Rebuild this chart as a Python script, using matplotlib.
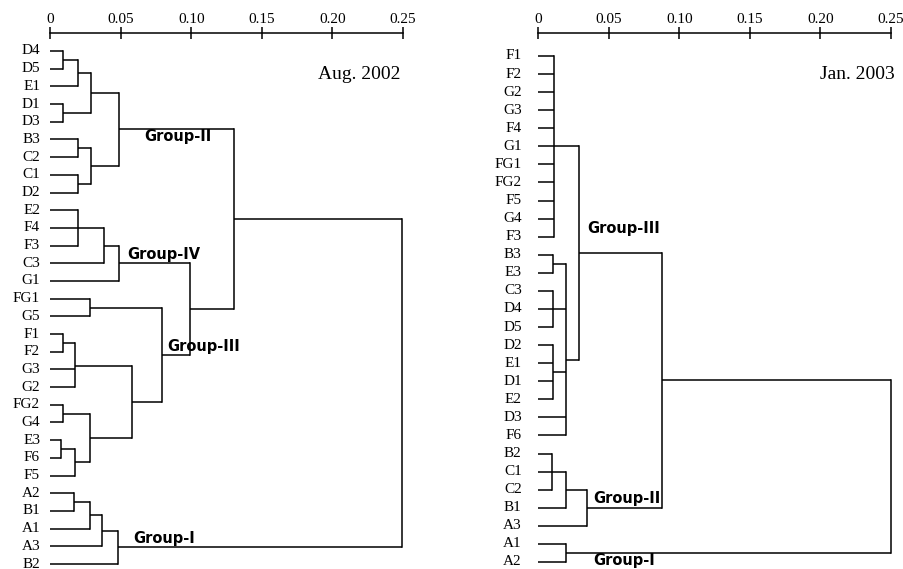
import matplotlib
matplotlib.use("Agg")
import matplotlib.pyplot as plt
import numpy as np

# Leaf order (top to bottom) and merges: (node, children, distance)
aug_leaves = ["D4", "D5", "E1", "D1", "D3", "B3", "C2", "C1", "D2", "E2",
              "F4", "F3", "C3", "G1", "FG1", "G5", "F1", "F2", "G3", "G2",
              "FG2", "G4", "E3", "F6", "F5", "A2", "B1", "A1", "A3", "B2"]
aug_merges = [
    ("a1", ["D4", "D5"], 0.009),
    ("a2", ["a1", "E1"], 0.0195),
    ("a3", ["D1", "D3"], 0.009),
    ("a4", ["a2", "a3"], 0.029),
    ("a5", ["B3", "C2"], 0.0195),
    ("a6", ["C1", "D2"], 0.0195),
    ("a7", ["a5", "a6"], 0.029),
    ("grpII", ["a4", "a7"], 0.049),
    ("a9", ["E2", "F4", "F3"], 0.0195),
    ("a10", ["a9", "C3"], 0.038),
    ("grpIV", ["a10", "G1"], 0.049),
    ("a11", ["FG1", "G5"], 0.028),
    ("a12", ["F1", "F2"], 0.009),
    ("a14", ["a12", "G3", "G2"], 0.018),
    ("a15", ["FG2", "G4"], 0.009),
    ("a16", ["E3", "F6"], 0.008),
    ("a17", ["a16", "F5"], 0.018),
    ("a18", ["a15", "a17"], 0.028),
    ("a19", ["a14", "a18"], 0.058),
    ("grpIII", ["a11", "a19"], 0.079),
    ("a20", ["grpIV", "grpIII"], 0.099),
    ("a21", ["grpII", "a20"], 0.130),
    ("a22", ["A2", "B1"], 0.017),
    ("a23", ["a22", "A1"], 0.028),
    ("a24", ["a23", "A3"], 0.037),
    ("grpI", ["a24", "B2"], 0.048),
    ("root", ["a21", "grpI"], 0.249),
]

jan_leaves = ["F1", "F2", "G2", "G3", "F4", "G1", "FG1", "FG2", "F5", "G4",
              "F3", "B3", "E3", "C3", "D4", "D5", "D2", "E1", "D1", "E2",
              "D3", "F6", "B2", "C1", "C2", "B1", "A3", "A1", "A2"]
jan_merges = [
    ("j1", ["F1", "F2", "G2", "G3", "F4", "G1", "FG1", "FG2", "F5", "G4", "F3"], 0.0116),
    ("j2", ["B3", "E3"], 0.0106),
    ("j3", ["C3", "D4", "D5"], 0.0106),
    ("j4", ["D2", "E1", "D1", "E2"], 0.0105),
    ("j5", ["j2", "j3", "j4", "D3", "F6"], 0.020),
    ("grpIII", ["j1", "j5"], 0.029),
    ("j6", ["B2", "C1", "C2"], 0.0097),
    ("j7", ["j6", "B1"], 0.020),
    ("grpII", ["j7", "A3"], 0.035),
    ("j8", ["grpIII", "grpII"], 0.0877),
    ("grpI", ["A1", "A2"], 0.020),
    ("root", ["j8", "grpI"], 0.250),
]

tick_values = [0, 0.05, 0.10, 0.15, 0.20, 0.25]
tick_labels = ["0", "0.05", "0.10", "0.15", "0.20", "0.25"]

SERIF = "Liberation Serif"
LW = 1.1


def draw_tree(ax, leaves, merges):
    pos = {name: (i, 0.0) for i, name in enumerate(leaves)}
    for node, children, h in merges:
        ys = []
        for c in children:
            y, x = pos[c]
            ax.plot([x, h], [y, y], color="black", lw=LW, clip_on=False,
                    solid_capstyle="butt")
            ys.append(y)
        ax.plot([h, h], [min(ys), max(ys)], color="black", lw=LW,
                clip_on=False, solid_capstyle="projecting")
        pos[node] = (np.mean(ys), h)


def setup_axis(ax, ylim, label_gap, leaves):
    ax.set_xlim(0, 0.25)
    ax.set_ylim(*ylim)
    for side in ["left", "right", "bottom"]:
        ax.spines[side].set_visible(False)
    ax.spines["top"].set_linewidth(LW)
    ax.xaxis.tick_top()
    ax.set_xticks(tick_values)
    ax.set_xticklabels(tick_labels, fontfamily=SERIF, fontsize=11)
    ax.tick_params(axis="x", direction="inout", length=9, width=LW, pad=0.5)
    ax.set_yticks([])
    ax.patch.set_alpha(0)
    for i, name in enumerate(leaves):
        ax.text(label_gap, i, name, ha="right", va="center",
                fontfamily=SERIF, fontsize=11)


def group_label(ax, x, y, text):
    ax.text(x, y, text, ha="left", va="center", fontfamily="DejaVu Sans",
            fontweight="bold", fontsize=10.5)


fig = plt.figure(figsize=(9.04, 5.69), dpi=100)
W, H = 904.0, 569.0
top = 33.0

# left panel: Aug. 2002
ax1 = fig.add_axes([50 / W, 0, 353 / W, (H - top) / H])
draw_tree(ax1, aug_leaves, aug_merges)
setup_axis(ax1, ((H - 51) / 17.69, (top - 51) / 17.69), -0.007, aug_leaves)
group_label(ax1, 0.067, 4.86, "Group-II")
group_label(ax1, 0.055, 11.53, "Group-IV")
group_label(ax1, 0.083, 16.73, "Group-III")
group_label(ax1, 0.059, 27.53, "Group-I")
ax1.text(0.2485, 1.35, "Aug. 2002", ha="right", va="center",
         fontfamily=SERIF, fontsize=14)

# right panel: Jan. 2003
ax2 = fig.add_axes([538 / W, 0, 353 / W, (H - top) / H])
draw_tree(ax2, jan_leaves, jan_merges)
setup_axis(ax2, ((H - 56) / 18.07, (top - 56) / 18.07), -0.0115, jan_leaves)
group_label(ax2, 0.0347, 9.52, "Group-III")
group_label(ax2, 0.039, 24.5, "Group-II")
group_label(ax2, 0.039, 27.9, "Group-I")
ax2.text(0.2525, 1.05, "Jan. 2003", ha="right", va="center",
         fontfamily=SERIF, fontsize=14)

fig.savefig("out.png", dpi=100)
